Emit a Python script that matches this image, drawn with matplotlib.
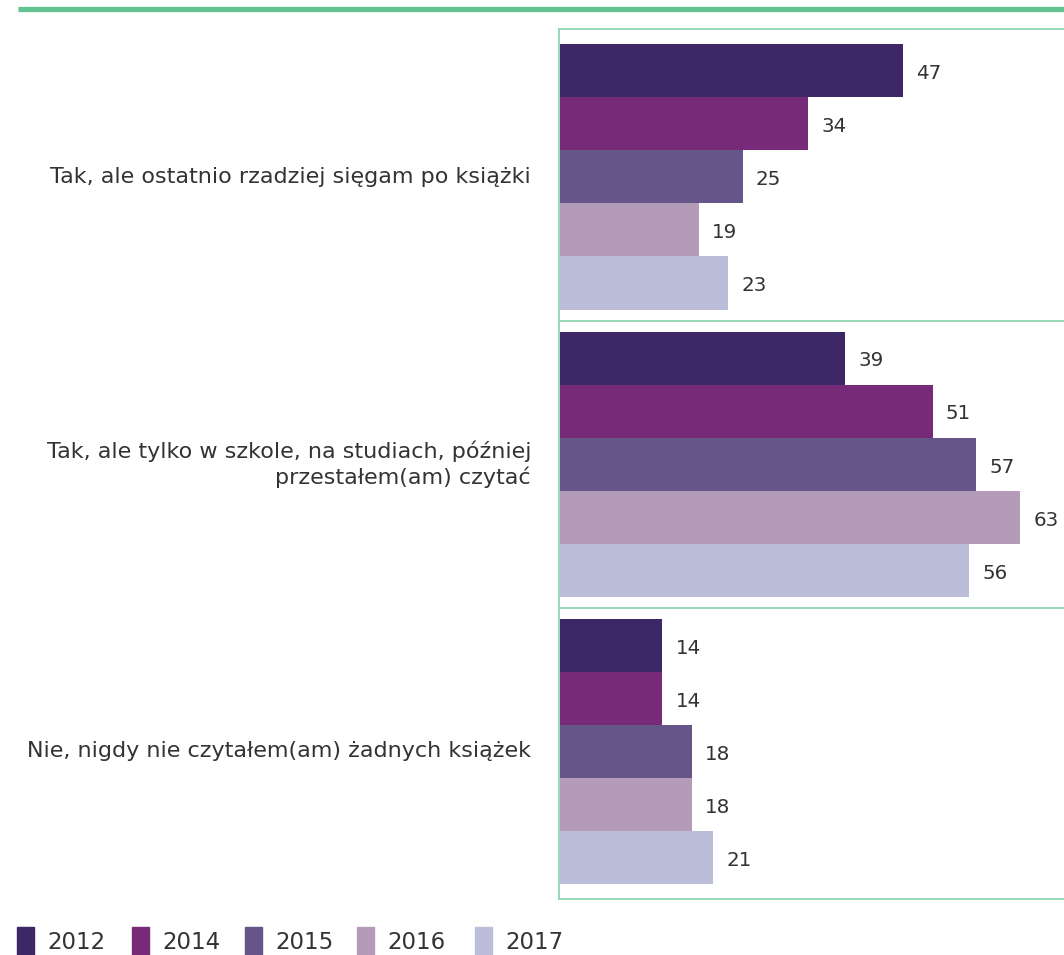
import matplotlib.pyplot as plt
from matplotlib.patches import Rectangle
from matplotlib.lines import Line2D
import numpy as np

plt.rcParams['font.family'] = ['DejaVu Sans']

categories = ['Tak, ale ostatnio rzadziej sięgam po książki',
              'Tak, ale tylko w szkole, na studiach, później\nprzestałem(am) czytać',
              'Nie, nigdy nie czytałem(am) żadnych książek']
years = ['2012', '2014', '2015', '2016', '2017']
v2012 = [47, 39, 14]
v2014 = [34, 51, 14]
v2015 = [25, 57, 18]
v2016 = [19, 63, 18]
v2017 = [23, 56, 21]
series = [v2012, v2014, v2015, v2016, v2017]

colors = ['#3d2766', '#772a78', '#665588', '#b49bb8', '#bbbdd9']
green = '#63c391'
box_green = '#8fd6b0'
txt = '#333333'

fig = plt.figure(figsize=(10.64, 9.55), dpi=100)
W, H = 1064, 955
ax = fig.add_axes([559 / W, 1 - 899 / H, (1075 - 559) / W, (899 - 29) / H])

bh = 0.1847
y = np.arange(len(categories))
for k, vals in enumerate(series):
    pos = y + (k - 2) * bh
    ax.barh(pos, vals, height=bh, color=colors[k], linewidth=0)
    for p, v in zip(pos, vals):
        ax.text(v + 1.8, p + 0.01, str(v), va='center', ha='left',
                fontsize=14.3, color=txt)

px = 7.32
ax.set_xlim(-1 / px, (1075 - 559) / px)
ax.set_ylim(2.514, -0.515)
for sep in [0.5, 1.5]:
    ax.axhline(sep, color=box_green, lw=1.3)
for s in ax.spines.values():
    s.set_color(box_green)
    s.set_linewidth(1.3)
ax.set_xticks([])
ax.set_yticks([])

for i, c in enumerate(categories):
    ax.text(-29 / px, i, c, ha='right', va='center', fontsize=16,
            color=txt, linespacing=1.3)

# green rule across the top
fig.add_artist(Line2D([18 / W, 1], [1 - 9.5 / H] * 2, color=green, lw=3.8,
                      solid_capstyle='butt'))

# legend along the bottom
lx = [17, 132, 245, 357, 475]
for x0, yr, col in zip(lx, years, colors):
    fig.add_artist(Rectangle((x0 / W, 0), 17 / W, 28 / H, color=col,
                             transform=fig.transFigure))
    fig.text((x0 + 30) / W, 1 - 942 / H, yr, ha='left', va='center',
             fontsize=16.5, color=txt)

fig.savefig('out.png', dpi=100)
